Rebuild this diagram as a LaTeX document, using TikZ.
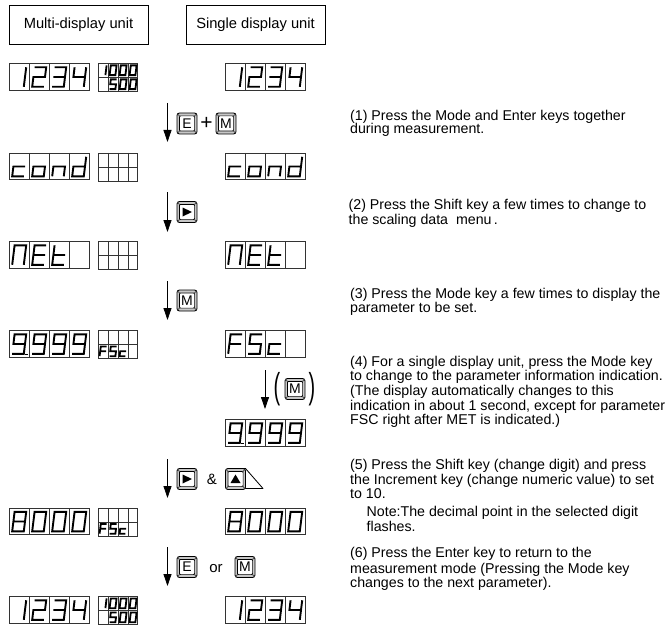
\documentclass[tikz,border=0pt]{standalone}
\usepackage{fontspec}
\setmainfont{Liberation Sans}
\usetikzlibrary{arrows.meta}
\def\gOne{(B)--(F)}
\def\gTwo{(A)--(B)--(D)--(C)--(E)--(F)}
\def\gThree{(A)--(B)--(F)--(E) (C)--(D)}
\def\gFour{(A)--(C)--(D) (B)--(F)}
\def\gFive{(B)--(A)--(C)--(D)--(F)--(E)}
\def\gNine{(D)--(C)--(A)--(B)--(F)--(E)}
\def\gZero{(A)--(B)--(F)--(E)--cycle}
\def\gEight{(A)--(B)--(F)--(E)--cycle (C)--(D)}
\def\gc{(D)--(C)--(E)--(F)}
\def\go{(C)--(D)--(F)--(E)--cycle}
\def\gn{(E)--(C)--(D)--(F)}
\def\gd{(B)--(F)--(E)--(C)--(D)}
\def\gN{(E)--(A)--(B)--(F)}
\def\gE{(B)--(A)--(E)--(F) (C)--(D)}
\def\gt{(A)--(E)--(F) (C)--(D)}
\def\gF{(B)--(A)--(E) (C)--(D)}
\def\gBlank{}
\tikzset{
  x=1pt,y=-1pt,
  cellline/.style={draw=black!80,line width=.8pt},
  seg/.style={line width=#1,line join=miter,draw=black},
  seg/.default=1.9pt,
  pics/sev/.style 2 args={code={
    \coordinate (A) at (5.6,3.8);\coordinate (B) at (17.2,3.8);
    \coordinate (C) at (4.4,13.5);\coordinate (D) at (16,13.5);
    \coordinate (E) at (3.2,23.3);\coordinate (F) at (14.8,23.3);
    \draw[seg=#1] #2;
  }},
  keyshell/.code={},
  pics/keyb/.style={code={
    \draw[line width=.9pt,rounded corners=2.5pt,fill=black!22] (-10,-10.5) rectangle (10,10.5);
    \foreach \sx in {-1,1}\foreach \sy in {-1,1}
      \draw[line width=.8pt,black!70] (\sx*7.3,\sy*7.3)--(\sx*9.6,\sy*9.8);
    \draw[line width=.7pt,rounded corners=1pt,fill=white] (-7.6,-7.6) rectangle (7.6,7.6);
    \node[keytxt] (lab) {#1};
  }},
  pics/keytri/.style={code={
    \draw[line width=.9pt,rounded corners=2.5pt,fill=black!22] (-10,-10.5) rectangle (10,10.5);
    \foreach \sx in {-1,1}\foreach \sy in {-1,1}
      \draw[line width=.8pt,black!70] (\sx*7.3,\sy*7.3)--(\sx*9.6,\sy*9.8);
    \draw[line width=.7pt,rounded corners=1pt,fill=white] (-7.6,-7.6) rectangle (7.6,7.6);
    \fill #1;
  }},
  keytxt/.style={inner sep=0pt,font=\fontsize{14}{14}\selectfont},
  hbox/.style={draw=black,line width=.8pt,minimum width=139pt,minimum height=39pt,inner sep=0pt,font=\fontsize{14.7}{15}\selectfont},
  body/.style={anchor=base west,inner sep=0pt,font=\fontsize{14.2}{15}\selectfont},
  sym/.style={inner sep=0pt,font=\fontsize{15}{15}\selectfont},
  paren/.style={inner sep=0pt,xscale=.55,transform shape,font=\fontsize{36}{36}\selectfont},
  flow/.style={line width=.8pt,-{Triangle[length=12pt,width=8pt]}},
}
\newcommand\dispbox[6]{%
  \draw[cellline] (#1,#2) rectangle ++(80,26.5);
  \foreach \k in {20,40,60} \draw[cellline] (#1+\k,#2)--++(0,26.5);
  \pic at (#1,#2) {sev={1.9pt}{#3}};
  \pic at (#1+20,#2) {sev={1.9pt}{#4}};
  \pic at (#1+40,#2) {sev={1.9pt}{#5}};
  \pic at (#1+60,#2) {sev={1.9pt}{#6}};
}
\newcommand\minigrid[2]{%
  \draw[cellline] (#1,#2) rectangle ++(39.5,28);
  \foreach \k in {10,20,30} \draw[cellline] (#1+\k,#2)--++(0,28);
  \draw[cellline] (#1,#2+14)--++(39.5,0);
}
\newcommand\sdig[3]{\pic[scale=.5] at (#1,#2) {sev={1.8pt}{#3}};}
\begin{document}
\begin{tikzpicture}
\useasboundingbox (0,0) rectangle (665,626);
\fill[white] (0,0) rectangle (665,626);
% headers
\node[hbox] (h1) at (78.5,24.5) {Multi-display unit};
\node[hbox] (h2) at (255.5,24.5) {Single display unit};
% row 1
\dispbox{9}{63.5}{\gOne}{\gTwo}{\gThree}{\gFour}
\minigrid{98}{63.5}
\sdig{98}{63.5}{\gOne}\sdig{108}{63.5}{\gZero}\sdig{118}{63.5}{\gZero}\sdig{128}{63.5}{\gZero}
\sdig{108}{77.5}{\gFive}\sdig{118}{77.5}{\gZero}\sdig{128}{77.5}{\gZero}
\dispbox{225}{63.5}{\gOne}{\gTwo}{\gThree}{\gFour}
% row 2
\dispbox{9}{153}{\gc}{\go}{\gn}{\gd}
\minigrid{98}{153}
\dispbox{225}{153}{\gc}{\go}{\gn}{\gd}
% row 3
\dispbox{9}{241.5}{\gN}{\gE}{\gt}{\gBlank}
\minigrid{98}{241.5}
\dispbox{225}{241.5}{\gN}{\gE}{\gt}{\gBlank}
% row 4
\dispbox{9}{330.5}{\gNine}{\gNine}{\gNine}{\gNine}
\draw[line width=1.2pt] (25,354.5)--(28,354.5);
\minigrid{98}{330.5}
\sdig{98}{344.5}{\gF}\sdig{108}{344.5}{\gFive}\sdig{118}{344.5}{\gc}
\dispbox{225}{330.5}{\gF}{\gFive}{\gc}{\gBlank}
% row 4b
\dispbox{225}{419.5}{\gNine}{\gNine}{\gNine}{\gNine}
\draw[line width=1.2pt] (241,443.5)--(244,443.5);
% row 5
\dispbox{9}{508}{\gEight}{\gZero}{\gZero}{\gZero}
\minigrid{98}{508}
\sdig{98}{522}{\gF}\sdig{108}{522}{\gFive}\sdig{118}{522}{\gc}
\dispbox{225}{508}{\gEight}{\gZero}{\gZero}{\gZero}
% row 6
\dispbox{9}{596.5}{\gOne}{\gTwo}{\gThree}{\gFour}
\minigrid{98}{596.5}
\sdig{98}{596.5}{\gOne}\sdig{108}{596.5}{\gZero}\sdig{118}{596.5}{\gZero}\sdig{128}{596.5}{\gZero}
\sdig{108}{610.5}{\gFive}\sdig{118}{610.5}{\gZero}\sdig{128}{610.5}{\gZero}
\dispbox{225}{596.5}{\gOne}{\gTwo}{\gThree}{\gFour}
% arrows
\coordinate (a1s) at (167.5,103);\coordinate (a1e) at (167.5,142);
\coordinate (a2s) at (167.5,192);\coordinate (a2e) at (167.5,232);
\coordinate (a3s) at (167.5,281);\coordinate (a3e) at (167.5,320);
\coordinate (a4s) at (265,370);\coordinate (a4e) at (265,409);
\coordinate (a5s) at (167.5,459);\coordinate (a5e) at (167.5,498);
\coordinate (a6s) at (167.5,547);\coordinate (a6e) at (167.5,586);
\foreach \n in {1,...,6} \draw[flow] (a\n s)--(a\n e);
% keys
\pic (k1) at (187,123.5) {keyb=E};
\node[sym] (plus) at (206.5,123.5) {\fontsize{21}{21}\selectfont +};
\pic (k2) at (226,123.5) {keyb=M};
\pic (k3) at (187,212) {keytri={(-4.5,-4.5)--(5,0)--(-4.5,4.5)--cycle}};
\pic (k4) at (187,300.5) {keyb=M};
\node[paren] (lp) at (277,389) {(};
\pic (k5) at (295,389) {keyb=M};
\node[paren] (rp) at (312,389) {)};
\pic (k6) at (187,479) {keytri={(-4.5,-4.5)--(5,0)--(-4.5,4.5)--cycle}};
\node[sym] (amp) at (212,479) {\&};
\draw[line width=.8pt,line join=round] (240,468.5)--(245.5,468.5)--(263,488.5)--(240,488.5);
\pic (k7) at (235.5,479) {keytri={(-5,4)--(0,-4.5)--(5,4)--cycle}};
\pic (k8) at (187,567) {keyb=E};
\node[sym] (orw) at (216,569) {or};
\pic (k9) at (245,567) {keyb=M};
% text
\node[body] (t11) at (350,120.5) {(1) Press the Mode and Enter keys together};
\node[body] (t12) at (350,133.5) {during measurement.};
\node[body] (t21) at (348.5,209) {(2) Press the Shift key a few times to change to};
\node[body] (t22) at (348.5,224) {the scaling data\ \ menu\,.};
\node[body] (t31) at (350,298) {(3) Press the Mode key a few times to display the};
\node[body] (t32) at (350,312.5) {parameter to be set.};
\node[body] (t41) at (350,366) {(4) For a single display unit, press the Mode key};
\node[body] (t42) at (350,380) {to change to the parameter information indication.};
\node[body] (t43) at (350,395) {(The display automatically changes to this};
\node[body] (t44) at (350,410.5) {indication in about 1 second, except for parameter};
\node[body] (t45) at (350,424) {FSC right after MET is indicated.)};
\node[body] (t51) at (350,469) {(5) Press the Shift key (change digit) and press};
\node[body] (t52) at (350,484) {the Increment key (change numeric value) to set};
\node[body] (t53) at (350,498) {to 10.};
\node[body] (t54) at (366.5,516) {Note:The decimal point in the selected digit};
\node[body] (t55) at (366.5,531.5) {flashes.};
\node[body] (t61) at (350,557.5) {(6) Press the Enter key to return to the};
\node[body] (t62) at (350,573.5) {measurement mode (Pressing the Mode key};
\node[body] (t63) at (350,587.5) {changes to the next parameter).};
\end{tikzpicture}
\end{document}
